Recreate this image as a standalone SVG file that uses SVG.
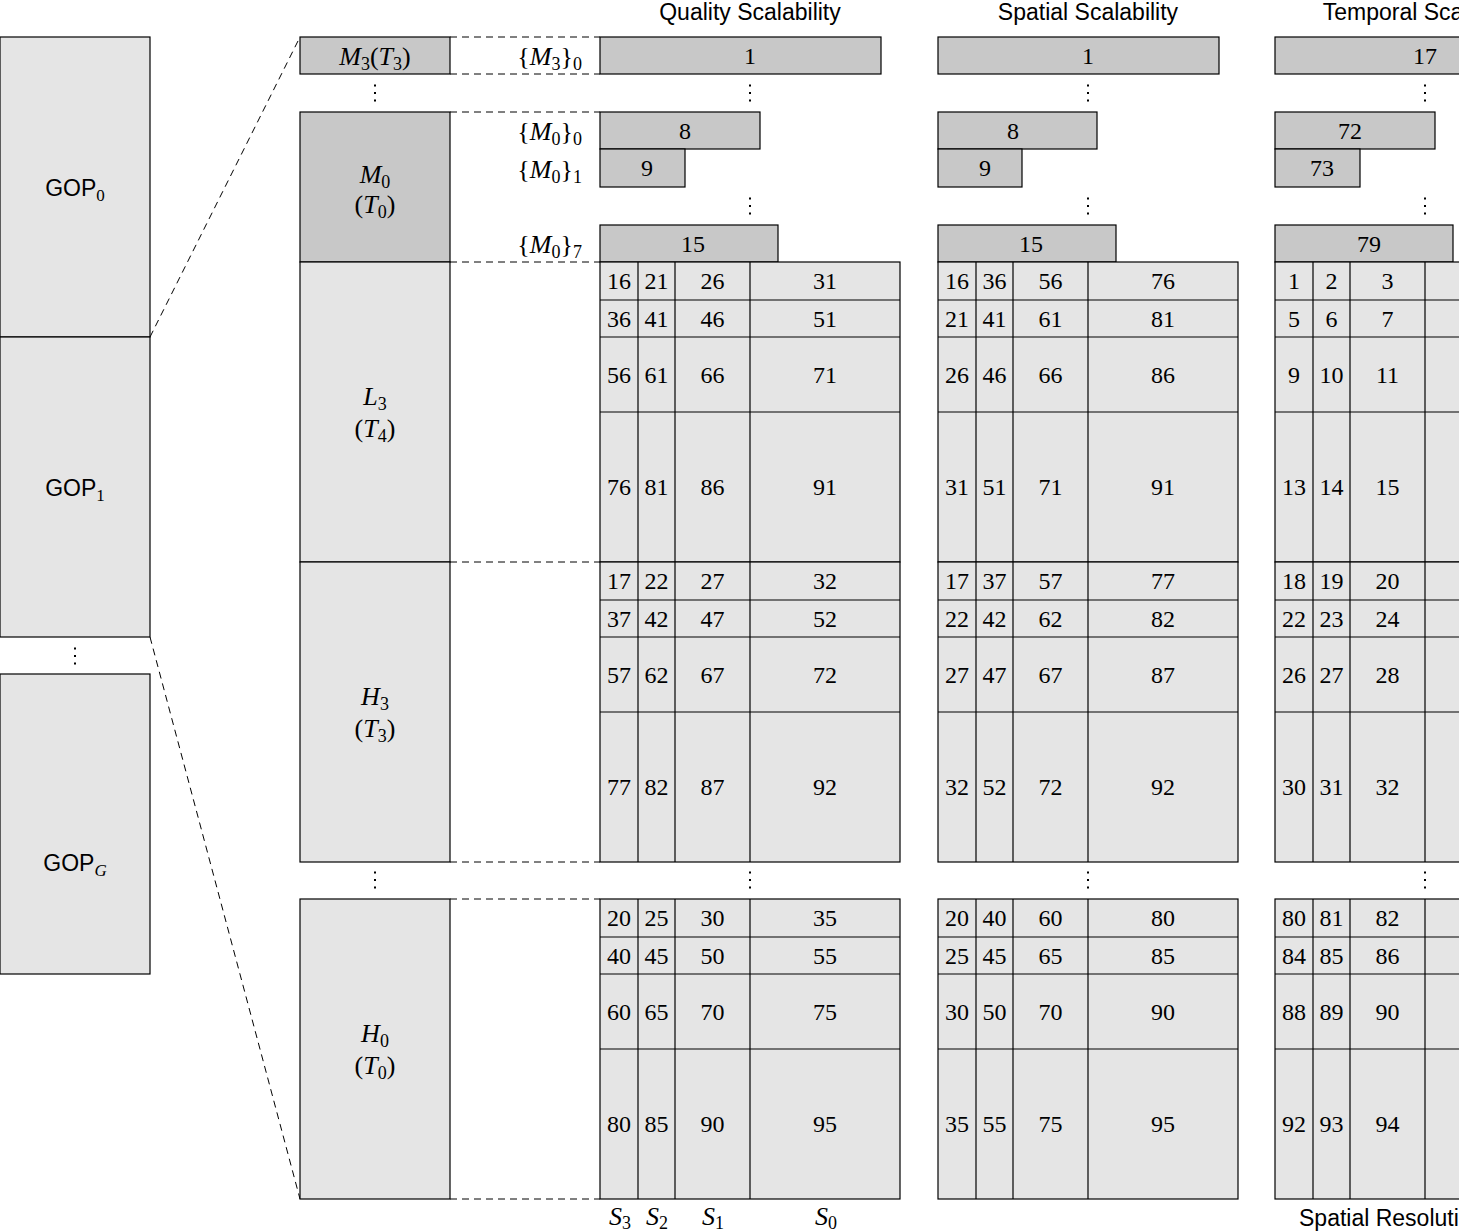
<svg xmlns="http://www.w3.org/2000/svg" xmlns:xlink="http://www.w3.org/1999/xlink" width="1459" height="1232" viewBox="0 0 1459 1232">
<style>
.dark{fill:#c8c8c8;stroke:#000;stroke-width:1.2}
.light{fill:#e5e5e5;stroke:#000;stroke-width:1.2}
.ln{stroke:#000;stroke-width:1.2}
.dash{stroke:#000;stroke-width:1;stroke-dasharray:7 5;fill:none}
.num{font-family:"Liberation Serif",serif;font-size:24px;text-anchor:middle;dominant-baseline:central;fill:#000}
.math{font-family:"Liberation Serif",serif;font-size:26px;text-anchor:middle;fill:#000}
.mr{text-anchor:end}
.it{font-style:italic}
.sub{font-size:18px}
.sans{font-family:"Liberation Sans",sans-serif;font-size:23px;text-anchor:middle;fill:#000}
.gop{font-family:"Liberation Sans",sans-serif;font-size:23px;text-anchor:middle;fill:#000}
.subs{font-family:"Liberation Serif",serif;font-size:17px}
.dot{fill:#000}
</style>
<defs>
<g id="vdots"><rect class="dot" x="-1" y="-8.5" width="2" height="2"/><rect class="dot" x="-1" y="-1" width="2" height="2"/><rect class="dot" x="-1" y="6.5" width="2" height="2"/></g>
<g id="grid">
<rect class="light" x="0" y="0" width="300" height="300"/>
<line class="ln" x1="0" y1="38" x2="300" y2="38"/>
<line class="ln" x1="0" y1="75" x2="300" y2="75"/>
<line class="ln" x1="0" y1="150" x2="300" y2="150"/>
<line class="ln" x1="38" y1="0" x2="38" y2="300"/>
<line class="ln" x1="75" y1="0" x2="75" y2="300"/>
<line class="ln" x1="150" y1="0" x2="150" y2="300"/>
</g>
</defs>

<!-- headers -->
<g id="headers">
<text class="sans" x="750" y="20">Quality Scalability</text>
<text class="sans" x="1088" y="20">Spatial Scalability</text>
<text class="sans" x="1425" y="20">Temporal Scalability</text>
<text class="sans" x="1299" y="1226" style="text-anchor:start">Spatial Resolution</text>
</g>

<!-- connectors -->
<g id="connectors">
<line class="dash" x1="150" y1="337" x2="300" y2="37"/>
<line class="dash" x1="150" y1="637" x2="300" y2="1199"/>
<line class="dash" x1="450" y1="37" x2="600" y2="37"/>
<line class="dash" x1="450" y1="74" x2="600" y2="74"/>
<line class="dash" x1="450" y1="112" x2="600" y2="112"/>
<line class="dash" x1="450" y1="262" x2="600" y2="262"/>
<line class="dash" x1="450" y1="562" x2="600" y2="562"/>
<line class="dash" x1="450" y1="862" x2="600" y2="862"/>
<line class="dash" x1="450" y1="899" x2="600" y2="899"/>
<line class="dash" x1="450" y1="1199" x2="600" y2="1199"/>
</g>

<!-- GOP column -->
<g id="gop0"><rect class="light" x="0" y="37" width="150" height="300"/>
<text class="gop" x="75" y="196">GOP<tspan class="subs" dy="5">0</tspan></text></g>
<g id="gop1"><rect class="light" x="0" y="337" width="150" height="300"/>
<text class="gop" x="75" y="496">GOP<tspan class="subs" dy="5">1</tspan></text></g>
<use xlink:href="#vdots" x="75" y="656"/>
<g id="gopG"><rect class="light" x="0" y="674" width="150" height="300"/>
<text class="gop" x="75" y="871">GOP<tspan class="subs it" dy="5">G</tspan></text></g>

<!-- label column -->
<g id="m3"><rect class="dark" x="300" y="37" width="150" height="37"/>
<text class="math" x="375" y="65"><tspan class="it">M</tspan><tspan class="sub" dy="5">3</tspan><tspan dy="-5">(</tspan><tspan class="it">T</tspan><tspan class="sub" dy="5">3</tspan><tspan dy="-5">)</tspan></text></g>
<use xlink:href="#vdots" x="375" y="93"/>
<g id="m0"><rect class="dark" x="300" y="112" width="150" height="150"/>
<text class="math" x="375" y="183"><tspan class="it">M</tspan><tspan class="sub" dy="5">0</tspan></text>
<text class="math" x="375" y="213">(<tspan class="it">T</tspan><tspan class="sub" dy="5">0</tspan><tspan dy="-5">)</tspan></text></g>
<g id="l3"><rect class="light" x="300" y="262" width="150" height="300"/>
<text class="math" x="375" y="405"><tspan class="it">L</tspan><tspan class="sub" dy="5">3</tspan></text>
<text class="math" x="375" y="437">(<tspan class="it">T</tspan><tspan class="sub" dy="5">4</tspan><tspan dy="-5">)</tspan></text></g>
<g id="h3"><rect class="light" x="300" y="562" width="150" height="300"/>
<text class="math" x="375" y="705"><tspan class="it">H</tspan><tspan class="sub" dy="5">3</tspan></text>
<text class="math" x="375" y="737">(<tspan class="it">T</tspan><tspan class="sub" dy="5">3</tspan><tspan dy="-5">)</tspan></text></g>
<use xlink:href="#vdots" x="375" y="880"/>
<g id="h0"><rect class="light" x="300" y="899" width="150" height="300"/>
<text class="math" x="375" y="1042"><tspan class="it">H</tspan><tspan class="sub" dy="5">0</tspan></text>
<text class="math" x="375" y="1074">(<tspan class="it">T</tspan><tspan class="sub" dy="5">0</tspan><tspan dy="-5">)</tspan></text></g>

<!-- set labels -->
<g id="setlabels">
<text class="math mr" x="582" y="65">{<tspan class="it">M</tspan><tspan class="sub" dy="5">3</tspan><tspan dy="-5">}</tspan><tspan class="sub" dy="5">0</tspan></text>
<text class="math mr" x="582" y="140">{<tspan class="it">M</tspan><tspan class="sub" dy="5">0</tspan><tspan dy="-5">}</tspan><tspan class="sub" dy="5">0</tspan></text>
<text class="math mr" x="582" y="178">{<tspan class="it">M</tspan><tspan class="sub" dy="5">0</tspan><tspan dy="-5">}</tspan><tspan class="sub" dy="5">1</tspan></text>
<text class="math mr" x="582" y="253">{<tspan class="it">M</tspan><tspan class="sub" dy="5">0</tspan><tspan dy="-5">}</tspan><tspan class="sub" dy="5">7</tspan></text>
</g>

<!-- Quality panel -->
<g id="quality">
<rect class="dark" x="600" y="37" width="281" height="37"/><text class="num" x="750" y="56">1</text>
<use xlink:href="#vdots" x="750" y="93"/>
<rect class="dark" x="600" y="112" width="160" height="37"/><text class="num" x="685" y="131">8</text>
<rect class="dark" x="600" y="149" width="85" height="38"/><text class="num" x="647" y="168">9</text>
<use xlink:href="#vdots" x="750" y="206"/>
<rect class="dark" x="600" y="225" width="178" height="37"/><text class="num" x="693" y="244">15</text>
<use xlink:href="#grid" x="600" y="262"/>
<use xlink:href="#grid" x="600" y="562"/>
<use xlink:href="#vdots" x="750" y="880"/>
<use xlink:href="#grid" x="600" y="899"/>
<text class="num" x="619" y="281">16</text><text class="num" x="656.5" y="281">21</text><text class="num" x="712.5" y="281">26</text><text class="num" x="825" y="281">31</text>
<text class="num" x="619" y="318.5">36</text><text class="num" x="656.5" y="318.5">41</text><text class="num" x="712.5" y="318.5">46</text><text class="num" x="825" y="318.5">51</text>
<text class="num" x="619" y="375">56</text><text class="num" x="656.5" y="375">61</text><text class="num" x="712.5" y="375">66</text><text class="num" x="825" y="375">71</text>
<text class="num" x="619" y="487">76</text><text class="num" x="656.5" y="487">81</text><text class="num" x="712.5" y="487">86</text><text class="num" x="825" y="487">91</text>
<text class="num" x="619" y="581">17</text><text class="num" x="656.5" y="581">22</text><text class="num" x="712.5" y="581">27</text><text class="num" x="825" y="581">32</text>
<text class="num" x="619" y="618.5">37</text><text class="num" x="656.5" y="618.5">42</text><text class="num" x="712.5" y="618.5">47</text><text class="num" x="825" y="618.5">52</text>
<text class="num" x="619" y="675">57</text><text class="num" x="656.5" y="675">62</text><text class="num" x="712.5" y="675">67</text><text class="num" x="825" y="675">72</text>
<text class="num" x="619" y="787">77</text><text class="num" x="656.5" y="787">82</text><text class="num" x="712.5" y="787">87</text><text class="num" x="825" y="787">92</text>
<text class="num" x="619" y="918">20</text><text class="num" x="656.5" y="918">25</text><text class="num" x="712.5" y="918">30</text><text class="num" x="825" y="918">35</text>
<text class="num" x="619" y="955.5">40</text><text class="num" x="656.5" y="955.5">45</text><text class="num" x="712.5" y="955.5">50</text><text class="num" x="825" y="955.5">55</text>
<text class="num" x="619" y="1012">60</text><text class="num" x="656.5" y="1012">65</text><text class="num" x="712.5" y="1012">70</text><text class="num" x="825" y="1012">75</text>
<text class="num" x="619" y="1124">80</text><text class="num" x="656.5" y="1124">85</text><text class="num" x="712.5" y="1124">90</text><text class="num" x="825" y="1124">95</text>
<text class="math" x="620" y="1225"><tspan class="it">S</tspan><tspan class="sub" dy="4">3</tspan></text>
<text class="math" x="657" y="1225"><tspan class="it">S</tspan><tspan class="sub" dy="4">2</tspan></text>
<text class="math" x="713" y="1225"><tspan class="it">S</tspan><tspan class="sub" dy="4">1</tspan></text>
<text class="math" x="826" y="1225"><tspan class="it">S</tspan><tspan class="sub" dy="4">0</tspan></text>
</g>

<!-- Spatial panel -->
<g id="spatial">
<rect class="dark" x="938" y="37" width="281" height="37"/><text class="num" x="1088" y="56">1</text>
<use xlink:href="#vdots" x="1088" y="93"/>
<rect class="dark" x="938" y="112" width="159" height="37"/><text class="num" x="1013" y="131">8</text>
<rect class="dark" x="938" y="149" width="84" height="38"/><text class="num" x="985" y="168">9</text>
<use xlink:href="#vdots" x="1088" y="206"/>
<rect class="dark" x="938" y="225" width="178" height="37"/><text class="num" x="1031" y="244">15</text>
<use xlink:href="#grid" x="938" y="262"/>
<use xlink:href="#grid" x="938" y="562"/>
<use xlink:href="#vdots" x="1088" y="880"/>
<use xlink:href="#grid" x="938" y="899"/>
<text class="num" x="957" y="281">16</text><text class="num" x="994.5" y="281">36</text><text class="num" x="1050.5" y="281">56</text><text class="num" x="1163" y="281">76</text>
<text class="num" x="957" y="318.5">21</text><text class="num" x="994.5" y="318.5">41</text><text class="num" x="1050.5" y="318.5">61</text><text class="num" x="1163" y="318.5">81</text>
<text class="num" x="957" y="375">26</text><text class="num" x="994.5" y="375">46</text><text class="num" x="1050.5" y="375">66</text><text class="num" x="1163" y="375">86</text>
<text class="num" x="957" y="487">31</text><text class="num" x="994.5" y="487">51</text><text class="num" x="1050.5" y="487">71</text><text class="num" x="1163" y="487">91</text>
<text class="num" x="957" y="581">17</text><text class="num" x="994.5" y="581">37</text><text class="num" x="1050.5" y="581">57</text><text class="num" x="1163" y="581">77</text>
<text class="num" x="957" y="618.5">22</text><text class="num" x="994.5" y="618.5">42</text><text class="num" x="1050.5" y="618.5">62</text><text class="num" x="1163" y="618.5">82</text>
<text class="num" x="957" y="675">27</text><text class="num" x="994.5" y="675">47</text><text class="num" x="1050.5" y="675">67</text><text class="num" x="1163" y="675">87</text>
<text class="num" x="957" y="787">32</text><text class="num" x="994.5" y="787">52</text><text class="num" x="1050.5" y="787">72</text><text class="num" x="1163" y="787">92</text>
<text class="num" x="957" y="918">20</text><text class="num" x="994.5" y="918">40</text><text class="num" x="1050.5" y="918">60</text><text class="num" x="1163" y="918">80</text>
<text class="num" x="957" y="955.5">25</text><text class="num" x="994.5" y="955.5">45</text><text class="num" x="1050.5" y="955.5">65</text><text class="num" x="1163" y="955.5">85</text>
<text class="num" x="957" y="1012">30</text><text class="num" x="994.5" y="1012">50</text><text class="num" x="1050.5" y="1012">70</text><text class="num" x="1163" y="1012">90</text>
<text class="num" x="957" y="1124">35</text><text class="num" x="994.5" y="1124">55</text><text class="num" x="1050.5" y="1124">75</text><text class="num" x="1163" y="1124">95</text>
</g>

<!-- Temporal panel -->
<g id="temporal">
<rect class="dark" x="1275" y="37" width="281" height="37"/><text class="num" x="1425" y="56">17</text>
<use xlink:href="#vdots" x="1425" y="93"/>
<rect class="dark" x="1275" y="112" width="160" height="37"/><text class="num" x="1350" y="131">72</text>
<rect class="dark" x="1275" y="149" width="85" height="38"/><text class="num" x="1322" y="168">73</text>
<use xlink:href="#vdots" x="1425" y="206"/>
<rect class="dark" x="1275" y="225" width="178" height="37"/><text class="num" x="1369" y="244">79</text>
<use xlink:href="#grid" x="1275" y="262"/>
<use xlink:href="#grid" x="1275" y="562"/>
<use xlink:href="#vdots" x="1425" y="880"/>
<use xlink:href="#grid" x="1275" y="899"/>
<text class="num" x="1294" y="281">1</text><text class="num" x="1331.5" y="281">2</text><text class="num" x="1387.5" y="281">3</text>
<text class="num" x="1294" y="318.5">5</text><text class="num" x="1331.5" y="318.5">6</text><text class="num" x="1387.5" y="318.5">7</text>
<text class="num" x="1294" y="375">9</text><text class="num" x="1331.5" y="375">10</text><text class="num" x="1387.5" y="375">11</text>
<text class="num" x="1294" y="487">13</text><text class="num" x="1331.5" y="487">14</text><text class="num" x="1387.5" y="487">15</text>
<text class="num" x="1294" y="581">18</text><text class="num" x="1331.5" y="581">19</text><text class="num" x="1387.5" y="581">20</text>
<text class="num" x="1294" y="618.5">22</text><text class="num" x="1331.5" y="618.5">23</text><text class="num" x="1387.5" y="618.5">24</text>
<text class="num" x="1294" y="675">26</text><text class="num" x="1331.5" y="675">27</text><text class="num" x="1387.5" y="675">28</text>
<text class="num" x="1294" y="787">30</text><text class="num" x="1331.5" y="787">31</text><text class="num" x="1387.5" y="787">32</text>
<text class="num" x="1294" y="918">80</text><text class="num" x="1331.5" y="918">81</text><text class="num" x="1387.5" y="918">82</text>
<text class="num" x="1294" y="955.5">84</text><text class="num" x="1331.5" y="955.5">85</text><text class="num" x="1387.5" y="955.5">86</text>
<text class="num" x="1294" y="1012">88</text><text class="num" x="1331.5" y="1012">89</text><text class="num" x="1387.5" y="1012">90</text>
<text class="num" x="1294" y="1124">92</text><text class="num" x="1331.5" y="1124">93</text><text class="num" x="1387.5" y="1124">94</text>
</g>
</svg>
